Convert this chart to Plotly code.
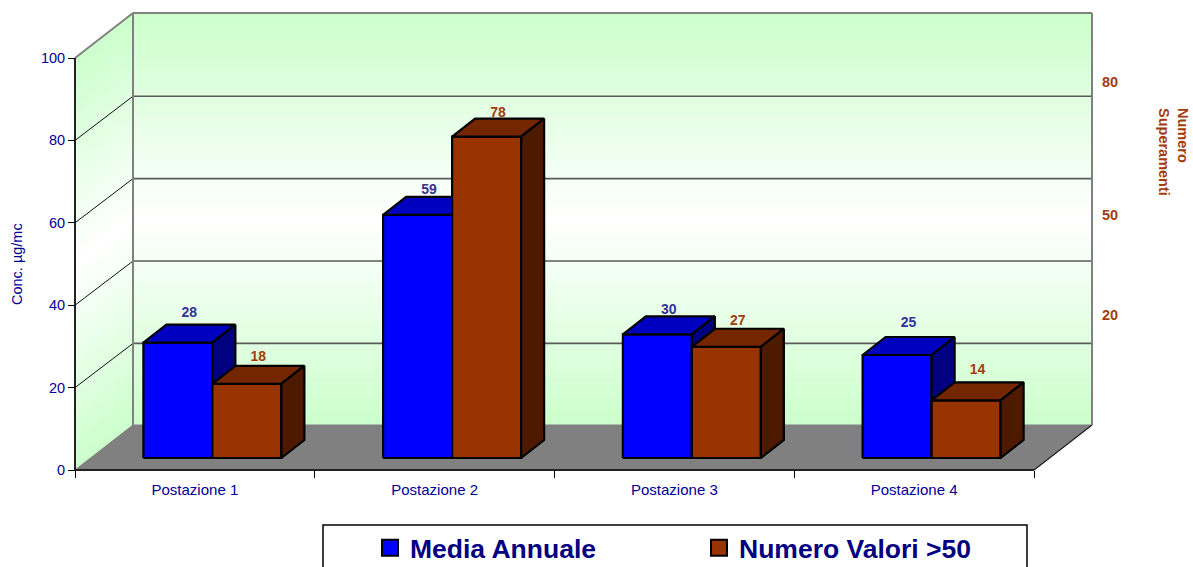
import plotly.graph_objects as go

# ---------- data ----------
categories = ["Postazione 1", "Postazione 2", "Postazione 3", "Postazione 4"]
media_annuale = [28, 59, 30, 25]
numero_valori = [18, 78, 27, 14]
series_names = ["Media Annuale", "Numero Valori >50"]
left_ticks = [0, 20, 40, 60, 80, 100]
right_tick_labels = ["20", "50", "80"]
# the reference's right-hand labels are not evenly spaced: where they sit on the value scale
right_tick_heights = [37.6, 61.9, 94.2]
label_lift_blue = [11.5, 6.5, 5.5, 13.5]     # px above the back top edge
label_lift_brown = [8, 5, 7.5, 12]

# ---------- geometry (page px) ----------
W, H = 1193, 567
X0, X1, Y0, Y100 = 75, 1034, 470, 58
PX_X = 4 / (X1 - X0)          # axis units per px
PX_Y = 100 / (Y0 - Y100)
WALL_DX, WALL_DY = 58, 45     # depth of the box
BAR_W = 69 * PX_X
BAR_SHIFT_X, BAR_SHIFT_Y = 17.5, 12   # front face offset of the bars
BAR_DX, BAR_DY = 23, 18       # depth of the bars
GRID_NUDGE = 0.2              # back-wall grid sits a hair lower than the ticks

NAVY = "#000099"
BROWN_TXT = "#A33C0B"
FONT = "Liberation Sans, Arial, sans-serif"


def wall(x, y, depth=0.0):
    """Project a floor-level point backwards by a share of the box depth."""
    return x + depth * WALL_DX * PX_X, y + depth * WALL_DY * PX_Y


def poly(pts, fill, line=None, width=0):
    xs = [p[0] for p in pts] + [pts[0][0]]
    ys = [p[1] for p in pts] + [pts[0][1]]
    return go.Scatter(
        x=xs, y=ys, mode="lines", fill="toself", fillcolor=fill,
        line=dict(color=line or fill, width=width if line else 1),
        hoverinfo="skip", showlegend=False, cliponaxis=False,
    )


def seg(p, q, color, width):
    return go.Scatter(
        x=[p[0], q[0]], y=[p[1], q[1]], mode="lines",
        line=dict(color=color, width=width), hoverinfo="skip",
        showlegend=False, cliponaxis=False,
    )


def shade(t):
    c = round(255 - 51 * t)
    return f"rgb({c},255,{c})"


traces = []
# gradient walls, light in the middle and green at both ends
N = 60
for i in range(N):
    v0, v1 = 100 * i / N, 100 * (i + 1) / N
    col = shade(abs((v0 + v1) / 2 - 50) / 50)
    traces.append(poly([wall(0, v0, 1), wall(4, v0, 1), wall(4, v1, 1), wall(0, v1, 1)], col))
    traces.append(poly([wall(0, v0, 0), wall(0, v0, 1), wall(0, v1, 1), wall(0, v1, 0)], col))

# floor
traces.append(poly([wall(0, 0), wall(4, 0), wall(4, 0, 1), wall(0, 0, 1)], "#808080"))
traces.append(seg(wall(4, 0), wall(4, 0, 1), "#222222", 1.2))

# grid lines
for v in left_ticks[1:-1]:
    traces.append(seg(wall(0, v), wall(0, v - GRID_NUDGE, 1), "#111111", 1))
    traces.append(seg(wall(0, v - GRID_NUDGE, 1), wall(4, v - GRID_NUDGE, 1), "#5a5a5a", 1.6))

# wall edges
GREY = "#808080"
traces.append(seg(wall(0, 100), wall(0, 100, 1), GREY, 2))
traces.append(seg(wall(0, 100, 1), wall(4, 100, 1), GREY, 2))
traces.append(seg(wall(0, 0, 1), wall(0, 100, 1), GREY, 2))
traces.append(seg(wall(4, 0, 1), wall(4, 100, 1), GREY, 2))
# axis lines along the front of the box
traces.append(seg(wall(0, 0), wall(4, 0), "#222222", 2))
traces.append(seg(wall(0, 0), wall(0, 100), "#222222", 2))


def bar(xl, value, front, top, side):
    x0 = xl + BAR_SHIFT_X * PX_X
    x1 = x0 + BAR_W
    base = BAR_SHIFT_Y * PX_Y
    y0, y1 = base, base + value
    dx, dy = BAR_DX * PX_X, BAR_DY * PX_Y
    return [
        poly([(x0, y0), (x1, y0), (x1, y1), (x0, y1)], front, "#000000", 2.2),
        poly([(x0, y1), (x1, y1), (x1 + dx, y1 + dy), (x0 + dx, y1 + dy)], top, "#000000", 2.2),
        poly([(x1, y0), (x1 + dx, y0 + dy), (x1 + dx, y1 + dy), (x1, y1)], side, "#000000", 2.2),
    ]


def bar_labels(xs, vals, lifts, color):
    base = BAR_SHIFT_Y * PX_Y
    return go.Scatter(
        x=xs,
        y=[base + v + (BAR_DY + l) * PX_Y for v, l in zip(vals, lifts)],
        mode="text", text=[str(v) for v in vals], textposition="middle center",
        textfont=dict(family=FONT, size=14, color=color, weight="bold"),
        hoverinfo="skip", showlegend=False, cliponaxis=False,
    )


blue_x, brown_x = [], []
for i, a in enumerate(media_annuale):
    left = i + 0.5 - BAR_W
    traces += bar(left, a, "#0000FF", "#0000C0", "#000080")
    blue_x.append(left + (BAR_SHIFT_X + BAR_DX / 2) * PX_X + BAR_W / 2)
for i, b in enumerate(numero_valori):
    left = i + 0.5
    traces += bar(left, b, "#993300", "#732600", "#4D1A00")
    brown_x.append(left + (BAR_SHIFT_X + BAR_DX / 2) * PX_X + BAR_W / 2)

traces.append(bar_labels(blue_x, media_annuale, label_lift_blue, "#333399"))
traces.append(bar_labels(brown_x, numero_valori, label_lift_brown, BROWN_TXT))

# legend entries
for name, col in zip(series_names, ["#0000FF", "#993300"]):
    traces.append(go.Scatter(
        x=[None], y=[None], mode="markers", name=name,
        marker=dict(symbol="square", size=16, color=col, line=dict(color="#000000", width=2)),
    ))

# carries the right-hand axis
traces.append(go.Scatter(x=[None], y=[None], yaxis="y2", showlegend=False, hoverinfo="skip"))

y_range = [-(H - Y0) * PX_Y, Y0 * PX_Y]

fig = go.Figure(traces)
fig.update_layout(
    width=W, height=H, margin=dict(l=0, r=0, t=0, b=0, autoexpand=False),
    paper_bgcolor="white", plot_bgcolor="rgba(0,0,0,0)",
    font=dict(family=FONT, color=NAVY, size=14),
    xaxis=dict(
        domain=[0, 1], range=[-X0 * PX_X, (W - X0) * PX_X],
        anchor="free", position=1 - Y0 / H, showgrid=False, zeroline=False,
        tickvals=[i + 0.5 for i in range(4)], ticktext=categories,
        ticks="outside", ticklen=6, tickcolor="rgba(0,0,0,0)",
        tickfont=dict(size=15, color=NAVY), showline=False,
        minor=dict(tickvals=[0, 1, 2, 3, 4], ticks="outside", ticklen=7,
                   tickcolor="#000000", tickwidth=1, showgrid=False),
    ),
    yaxis=dict(
        domain=[0, 1], range=y_range, anchor="free", position=X0 / W,
        showgrid=False, zeroline=False,
        tickvals=left_ticks, ticks="outside", ticklen=7, tickcolor="#000000", tickwidth=1,
        tickfont=dict(size=14.5, color=NAVY), showline=False,
    ),
    yaxis2=dict(
        overlaying="y", side="right", anchor="free", position=1092 / W, range=y_range,
        tickvals=right_tick_heights, ticktext=right_tick_labels,
        ticks="outside", ticklen=6, tickcolor="rgba(0,0,0,0)",
        tickfont=dict(size=14.5, color=BROWN_TXT, weight="bold"),
        showgrid=False, zeroline=False, showline=False,
    ),
    legend=dict(
        orientation="h", x=370 / W, y=1 - 524 / H, xanchor="left", yanchor="top",
        bgcolor="rgba(0,0,0,0)", font=dict(size=26.5, color="#000080", weight="bold"),
        entrywidth=284, entrywidthmode="pixels", itemclick=False, itemdoubleclick=False,
    ),
    shapes=[dict(type="rect", xref="paper", yref="paper",
                 x0=323 / W, x1=1027 / W, y0=-0.1, y1=1 - 525 / H,
                 line=dict(color="#000000", width=1.5), fillcolor="white", layer="below")],
    annotations=[
        dict(
            text="Numero<br>Superamenti", xref="paper", yref="paper", textangle=90,
            x=1174 / W, y=1 - 152 / H, xanchor="center", yanchor="middle", showarrow=False,
            align="left", font=dict(size=14.5, color=BROWN_TXT, weight="bold"),
        ),
        dict(
            text="Conc. µg/mc", xref="paper", yref="paper", textangle=-90,
            x=17 / W, y=1 - 264 / H, xanchor="center", yanchor="middle", showarrow=False,
            font=dict(size=14.5, color=NAVY),
        ),
    ],
)

fig.write_html("out.html", config=dict(displayModeBar=False),
               post_script="document.body.style.margin='0';document.body.style.overflow='hidden';")
